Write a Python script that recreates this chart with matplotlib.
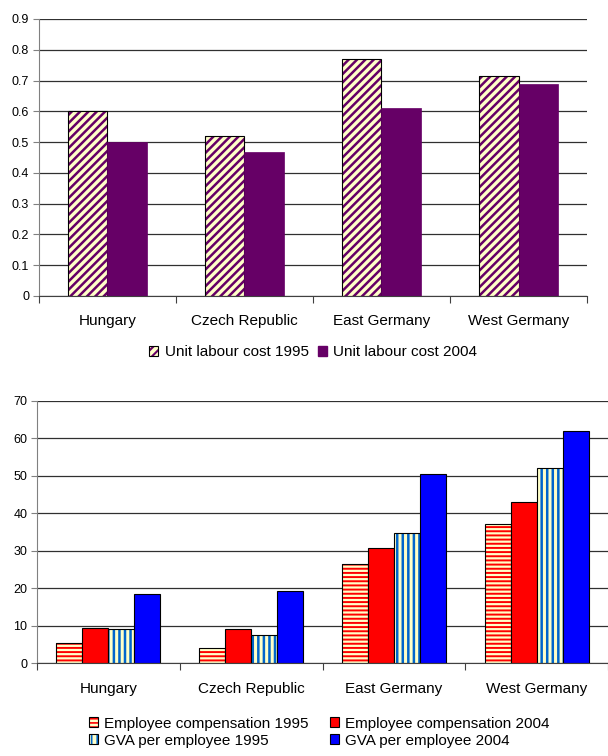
import numpy as np
import matplotlib
matplotlib.use("Agg")
import matplotlib.pyplot as plt
from matplotlib.patches import Patch

plt.rcParams['font.family'] = ['Liberation Sans', 'DejaVu Sans']

regions = ['Hungary', 'Czech Republic', 'East Germany', 'West Germany']

# top chart: unit labour cost
ulc_1995 = [0.60, 0.52, 0.77, 0.714]
ulc_2004 = [0.50, 0.468, 0.61, 0.688]

# bottom chart
comp_1995 = [5.3, 4.0, 26.5, 37.2]
comp_2004 = [9.3, 9.0, 30.8, 43.0]
gva_1995 = [9.0, 7.6, 34.7, 52.0]
gva_2004 = [18.5, 19.2, 50.4, 62.0]

CREAM = '#FFFFC8'
PURPLE = '#660066'
RED = '#FF0000'
STRIPE_BLUE = '#0066CC'
BLUE = '#0000FF'


def set_hlw(patches, lw):
    for p in patches:
        if hasattr(p, 'set_hatch_linewidth'):
            p.set_hatch_linewidth(lw)


def hatched_bars(ax, x, h, w, hatch, hcolor, lw):
    plt.rcParams['hatch.linewidth'] = lw
    bars = ax.bar(x, h, w, color=CREAM, edgecolor=hcolor, hatch=hatch, linewidth=0)
    set_hlw(bars, lw)
    ax.bar(x, h, w, fill=False, edgecolor='black', linewidth=0.8)


def style_axes(ax, n, xmax, pad):
    ax.set_axisbelow(True)
    ax.yaxis.grid(True, color='#303030', linewidth=0.9)
    for s in ['top', 'right']:
        ax.spines[s].set_visible(False)
    ax.spines['left'].set_color('#808080')
    ax.spines['bottom'].set_color('#404040')
    ax.set_xlim(-0.5, xmax)
    ax.set_xticks(np.arange(n + 1) - 0.5)
    ax.set_xticklabels([])
    ax.set_xticks(np.arange(n), minor=True)
    ax.set_xticklabels(regions, minor=True, fontsize=11)
    ax.tick_params(axis='x', which='major', length=5, color='#404040')
    ax.tick_params(axis='x', which='minor', length=0, pad=pad)
    ax.tick_params(axis='y', length=4, color='#808080', labelsize=9, pad=3)


fig = plt.figure(figsize=(6.08, 7.56), dpi=100)

# ---- top chart
ax1 = fig.add_axes([0.064, 0.6085, 0.9015, 0.3664])
x = np.arange(len(regions))
w = 1 / 3.5
hatched_bars(ax1, x - w / 2, ulc_1995, w, '////', PURPLE, 1.8)
ax1.bar(x + w / 2, ulc_2004, w, color=PURPLE, edgecolor=PURPLE, linewidth=0.5)
ax1.set_ylim(0, 0.9)
ax1.set_yticks(np.arange(0, 0.91, 0.1))
ax1.set_yticklabels(['0'] + ['%.1f' % v for v in np.arange(0.1, 0.91, 0.1)])
style_axes(ax1, 4, 3.5, 13)

plt.rcParams['hatch.linewidth'] = 1.5
h1 = Patch(facecolor=CREAM, edgecolor=PURPLE, hatch='////', linewidth=0)
set_hlw([h1], 1.5)
h1b = Patch(fill=False, edgecolor='black', linewidth=0.8)
h2 = Patch(facecolor=PURPLE, edgecolor=PURPLE)
fig.legend([(h1, h1b), h2], ['Unit labour cost 1995', 'Unit labour cost 2004'],
           loc='center', bbox_to_anchor=(0.515, 0.534), ncol=2, frameon=False,
           fontsize=11, handlelength=0.6, handleheight=0.6, handletextpad=0.4,
           columnspacing=0.6)

# ---- bottom chart
ax2 = fig.add_axes([0.0609, 0.123, 0.9391, 0.3466])
w = 1 / 5.5
off = np.array([-1.5, -0.5, 0.5, 1.5]) * w
hatched_bars(ax2, x + off[0], comp_1995, w, '----', RED, 1.4)
ax2.bar(x + off[1], comp_2004, w, color=RED, edgecolor='black', linewidth=0.8)
hatched_bars(ax2, x + off[2], gva_1995, w, '|||', STRIPE_BLUE, 1.8)
ax2.bar(x + off[3], gva_2004, w, color=BLUE, edgecolor='black', linewidth=0.8)
ax2.set_ylim(0, 70)
ax2.set_yticks(np.arange(0, 71, 10))
style_axes(ax2, 4, 3.485, 14)

plt.rcParams['hatch.linewidth'] = 1.2
frame = Patch(fill=False, edgecolor='black', linewidth=0.8)
e1 = Patch(facecolor=CREAM, edgecolor=RED, hatch='----', linewidth=0)
g1 = Patch(facecolor=CREAM, edgecolor=STRIPE_BLUE, hatch='|||', linewidth=0)
set_hlw([e1, g1], 1.2)
e2 = Patch(facecolor=RED, edgecolor='black', linewidth=0.8)
g2 = Patch(facecolor=BLUE, edgecolor='black', linewidth=0.8)
fig.legend([(e1, frame), (g1, frame), e2, g2],
           ['Employee compensation 1995', 'GVA per employee 1995',
            'Employee compensation 2004', 'GVA per employee 2004'],
           loc='center', bbox_to_anchor=(0.525, 0.0317), ncol=2, frameon=False,
           fontsize=11, handlelength=0.6, handleheight=0.6, handletextpad=0.4,
           columnspacing=1.35, labelspacing=0.2)

fig.savefig('out.png', dpi=100)
